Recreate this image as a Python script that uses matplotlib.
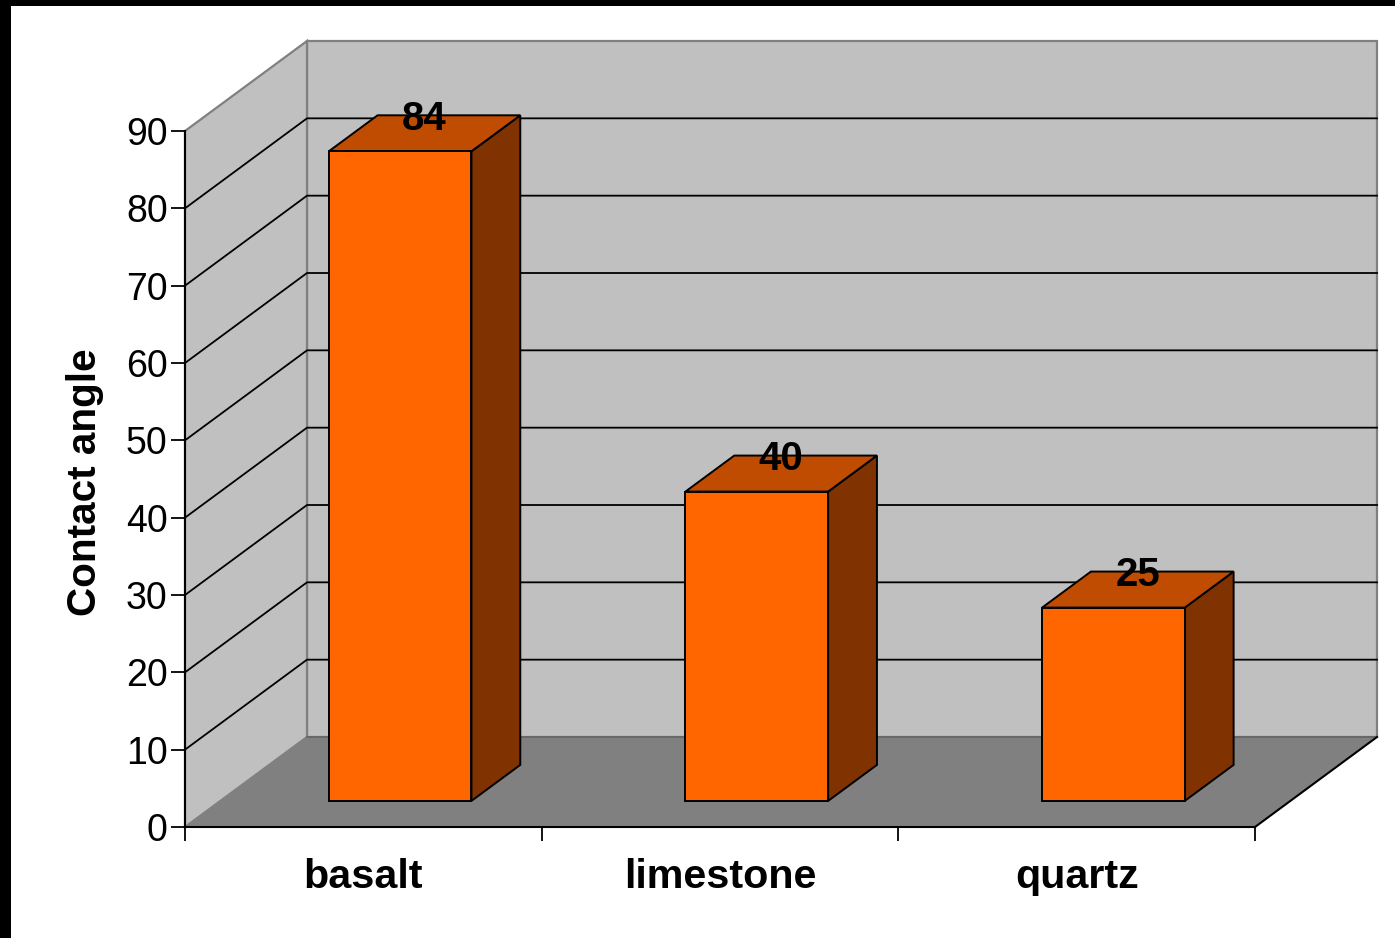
import matplotlib
matplotlib.use('Agg')
import matplotlib.pyplot as plt
from matplotlib.patches import Polygon, Rectangle

categories = ['basalt', 'limestone', 'quartz']
values = [84, 40, 25]
yticks = [0, 10, 20, 30, 40, 50, 60, 70, 80, 90]

W, H = 1395, 938
plt.rcParams['font.family'] = ['Liberation Sans', 'DejaVu Sans']

fig = plt.figure(figsize=(W/100, H/100), dpi=100, facecolor='white')
ax = fig.add_axes([185/W, 1-827/H, 1070/W, 696/H])
ax.set_xlim(0, 3)
ax.set_ylim(0, 90)
ax.patch.set_visible(False)

# depth of the box in data units
DX = 122/1070*3
DY = 90/696*90

def proj(x, y, d):
    return (x + d*DX, y + d*DY)

def face(pts, fc, ec='none', lw=0, z=1):
    ax.add_patch(Polygon(pts, closed=True, fc=fc, ec=ec, lw=lw, zorder=z,
                         clip_on=False, joinstyle='miter'))

def edge(p, q, color, lw, z=2):
    ax.plot([p[0], q[0]], [p[1], q[1]], color=color, lw=lw, zorder=z, clip_on=False)

# walls and floor
face([proj(0, 0, 1), proj(3, 0, 1), proj(3, 90, 1), proj(0, 90, 1)], '#c0c0c0', '#808080', 1.6)
face([proj(0, 0, 0), proj(0, 0, 1), proj(0, 90, 1), proj(0, 90, 0)], '#c0c0c0', '#808080', 1.6)
face([proj(0, 0, 0), proj(3, 0, 0), proj(3, 0, 1), proj(0, 0, 1)], '#808080')
edge(proj(0, 0, 1), proj(3, 0, 1), '#666666', 1.3)
edge(proj(3, 0, 0), proj(3, 0, 1), 'black', 1.5)

# gridlines along side wall and back wall
for v in yticks[1:-1]:
    xs, ys = zip(proj(0, v, 0), proj(0, v, 1), proj(3, v, 1))
    ax.plot(xs, ys, color='black', lw=1.3, zorder=2, clip_on=False)

# bars
bw = 0.4
d0, d1 = 0.29, 0.69
for i, v in enumerate(values):
    x0 = i + 0.504 - bw/2
    x1 = x0 + bw
    face([proj(x1, 0, d0), proj(x1, 0, d1), proj(x1, v, d1), proj(x1, v, d0)], '#803300', 'black', 1.4, 3)
    face([proj(x0, v, d0), proj(x1, v, d0), proj(x1, v, d1), proj(x0, v, d1)], '#bf4c00', 'black', 1.4, 3)
    face([proj(x0, 0, d0), proj(x1, 0, d0), proj(x1, v, d0), proj(x0, v, d0)], '#ff6600', 'black', 1.4, 4)
    lx, ly = proj(i + 0.5, v + 1.75, 0.5)
    ax.text(lx, ly, str(v), ha='center', va='center', fontsize=29, fontweight='bold',
            color='black', zorder=5, clip_on=False)

# axes
for s in ['top', 'right']:
    ax.spines[s].set_visible(False)
for s in ['left', 'bottom']:
    ax.spines[s].set_color('black')
    ax.spines[s].set_linewidth(1.5)
    ax.spines[s].set_zorder(6)
ax.set_yticks(yticks)
ax.set_xticks([0, 1, 2, 3])
ax.set_xticklabels([])
ax.tick_params(axis='y', length=10, width=1.3, labelsize=27, pad=2.5, direction='out')
ax.tick_params(axis='x', length=10, width=1.3, direction='out')
for lab in ax.get_yticklabels():
    lab.set_y(lab.get_position()[1])
for i, c in enumerate(categories):
    ax.text(i + 0.5, -6.45, c, ha='center', va='center', fontsize=29.7, fontweight='bold', clip_on=False)
fig.text(85/W, 1-482/H, 'Contact angle', rotation=90, ha='center', va='center', fontsize=29.2, fontweight='bold')

# dark frame along top and left edges
fig.add_artist(Rectangle((0, 1-6/H), 1, 6/H, transform=fig.transFigure, fc='black', ec='none'))
fig.add_artist(Rectangle((0, 0), 11/W, 1, transform=fig.transFigure, fc='black', ec='none'))

fig.savefig('out.png', dpi=100, facecolor='white')
